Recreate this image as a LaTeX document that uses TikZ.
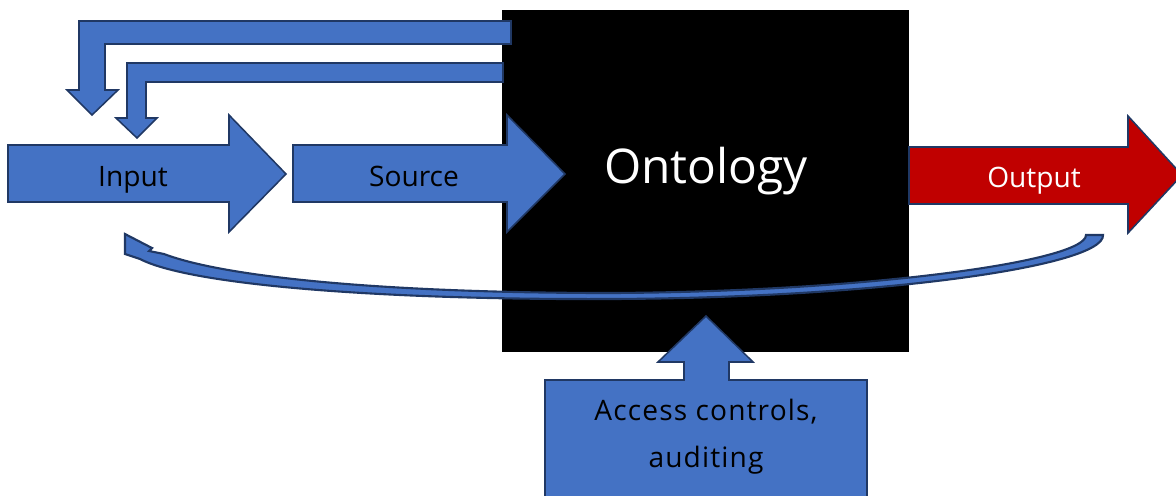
\documentclass[tikz,border=0pt]{standalone}
\usepackage{fontspec}
\setmainfont{Open Sans}
\usepackage{tikz}
\usetikzlibrary{positioning,calc}
\usepackage{xcolor}
\definecolor{arrowblue}{RGB}{68,114,196}
\definecolor{arrowline}{RGB}{32,56,100}
\definecolor{outred}{RGB}{192,0,0}

\begin{document}
\begin{tikzpicture}[
    x=0.025cm, y=-0.025cm,
    blockarrow/.style={fill=arrowblue, draw=arrowline, line width=1.1pt, line join=miter},
    label/.style={font=\fontsize{20}{24}\selectfont, inner sep=0pt, anchor=base},
    big/.style={font=\fontsize{34}{40}\selectfont, inner sep=0pt, anchor=base, text=white}
]
    \useasboundingbox (0,0) rectangle (1176,495);

    % Ontology box
    \node[fill=black, inner sep=0pt, minimum width=10.175cm, minimum height=8.55cm, anchor=north west] (onto) at (502,10) {};
    \node[big] (ontolabel) at (706,183) {Ontology};

    % Curved return arrow (output back to input)
    \draw[blockarrow, line width=1.5pt] (1103,235) .. controls (1105,266) and (880,298) .. (610,299)
        .. controls (380,300) and (190,285) .. (140,259) -- (125,254) -- (125,234)
        -- (152,248) -- (149,251) -- (164,254)
        .. controls (230,279) and (400,293) .. (610,293)
        .. controls (860,292) and (1086,262) .. (1086,235) -- cycle;

    % Feedback arrows from the ontology
    \draw[blockarrow] (511,21) -- (79,21) -- (79,90) -- (67,90) -- (92,115) -- (118,90)
        -- (105,90) -- (105,44) -- (511,44) -- cycle;
    \draw[blockarrow] (503,63) -- (127,63) -- (127,118) -- (116,118) -- (137,138) -- (157,118)
        -- (146,118) -- (146,82) -- (503,82) -- cycle;

    % Input and source
    \draw[blockarrow] (8,145) -- (229,145) -- (229,115) -- (286,174) -- (229,232)
        -- (229,202) -- (8,202) -- cycle;
    \node[label] (input) at (133,186) {Input};
    \draw[blockarrow] (293,145) -- (507,145) -- (507,115) -- (565,174) -- (507,232)
        -- (507,202) -- (293,202) -- cycle;
    \node[label] (source) at (414,186) {Source};

    % Output
    \draw[blockarrow, fill=outred] (909,147) -- (1128,147) -- (1128,116) -- (1182,175)
        -- (1128,233) -- (1128,204) -- (909,204) -- cycle;
    \node[label, text=white] (output) at (1034,187) {Output};

    % Access controls
    \draw[blockarrow] (545,500) -- (545,380) -- (684,380) -- (684,362) -- (658,362) -- (706,316)
        -- (753,362) -- (729,362) -- (729,380) -- (867,380) -- (867,500) -- cycle;
    \node[label, font=\fontsize{20}{24}\selectfont\addfontfeature{LetterSpace=4}] (access) at (706,420) {Access controls,};
    \node[label, font=\fontsize{20}{24}\selectfont\addfontfeature{LetterSpace=4}] (audit) at (706,467) {auditing};
\end{tikzpicture}
\end{document}
